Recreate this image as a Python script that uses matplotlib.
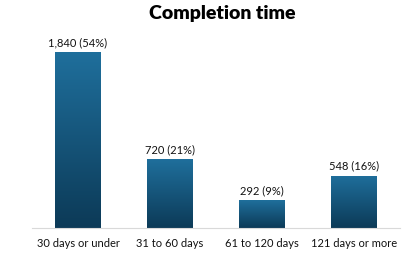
import matplotlib.pyplot as plt
import numpy as np
from matplotlib.colors import LinearSegmentedColormap

categories = ["30 days or under", "31 to 60 days", "61 to 120 days", "121 days or more"]
counts = [1840, 720, 292, 548]
percents = [54, 21, 9, 16]

plt.rcParams['font.family'] = ['Lato', 'DejaVu Sans']

fig = plt.figure(figsize=(4.2, 2.68), dpi=100)
ax = fig.add_axes([32/420, 1 - 228/268, 368/420, (228 - 36.7)/268])

x = np.arange(len(categories))
bars = ax.bar(x, counts, width=0.5, color="none", edgecolor="none")

# vertical gradient fill, clipped to each bar
cmap = LinearSegmentedColormap.from_list("grad", ["#0c3a57", "#1f6f9c"])
grad = np.linspace(0, 1, 256).reshape(-1, 1)
for b in bars:
    x0, y0 = b.get_x(), b.get_y()
    w, h = b.get_width(), b.get_height()
    im = ax.imshow(grad, cmap=cmap, aspect="auto", origin="lower",
                   extent=[x0, x0 + w, y0, y0 + h], zorder=2)
    im.set_clip_path(b)

for xi, c, p in zip(x, counts, percents):
    ax.text(xi, c + 40, f"{c:,} ({p}%)", ha="center", va="bottom", fontsize=8, color="#111111")

ax.set_xlim(-0.5, 3.5)
ax.set_ylim(0, 2000)
ax.set_xticks(x)
ax.set_xticklabels(categories, fontsize=8, color="#111111")
ax.tick_params(axis="x", length=0, pad=7)
ax.set_yticks([])
for s in ["top", "right", "left"]:
    ax.spines[s].set_visible(False)
ax.spines["bottom"].set_color("#d9d9d9")

fig.text(222/420, 1 - 14/268, "Completion time", ha="center", va="center",
         fontsize=14, fontweight="heavy", color="black")

fig.savefig("out.png", dpi=100)
